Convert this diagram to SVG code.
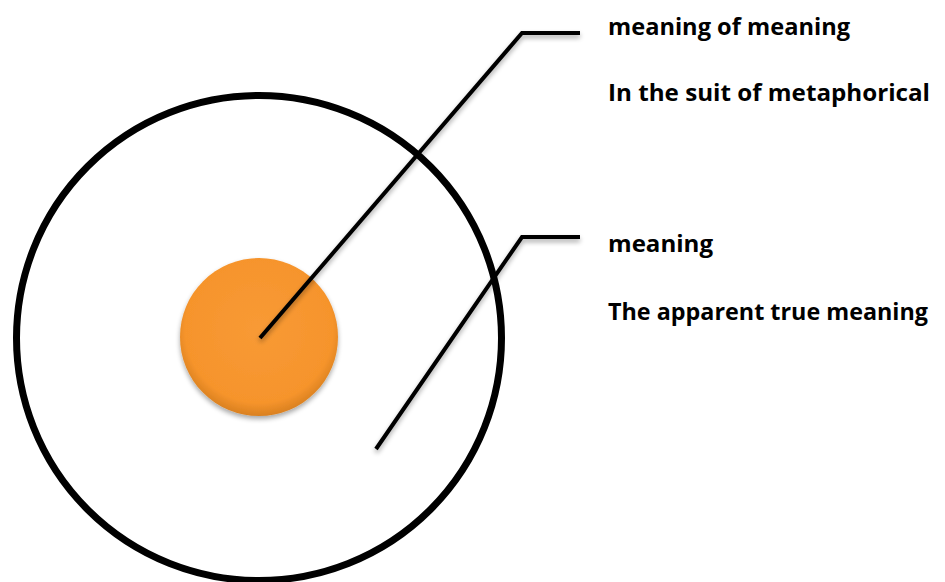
<svg xmlns="http://www.w3.org/2000/svg" width="945" height="582" viewBox="0 0 945 582">
<style>
.lbl{font-family:"Open Sans","Liberation Sans",sans-serif;font-weight:bold;font-size:23px;fill:#000}
.conn{fill:none;stroke:#000;stroke-width:4;stroke-linejoin:miter;stroke-linecap:butt}
</style>
<defs>
<radialGradient id="og" cx="50%" cy="45%" r="55%">
<stop offset="0" stop-color="#F89A35"/>
<stop offset="0.85" stop-color="#F6942C"/>
<stop offset="1" stop-color="#D9801F"/>
</radialGradient>
<filter id="sh" x="-20%" y="-20%" width="140%" height="140%">
<feGaussianBlur in="SourceAlpha" stdDeviation="2.5"/>
<feOffset dx="0" dy="3" result="b"/>
<feComponentTransfer><feFuncA type="linear" slope="0.35"/></feComponentTransfer>
<feMerge><feMergeNode/><feMergeNode in="SourceGraphic"/></feMerge>
</filter>
</defs>
<rect width="945" height="582" fill="#fff"/>
<g id="outer">
<circle cx="259" cy="338" r="242.5" fill="none" stroke="#000" stroke-width="7"/>
</g>
<g id="core">
<circle cx="259" cy="337" r="79" fill="url(#og)" filter="url(#sh)"/>
</g>
<g id="connectors" filter="url(#sh)">
<polyline class="conn" points="260,338 522,33 580,33"/>
<polyline class="conn" points="376,449 522,237 580,237"/>
</g>
<g id="label-meaning-of-meaning">
<text class="lbl" x="608" y="35" textLength="242" lengthAdjust="spacingAndGlyphs">meaning of meaning</text>
<text class="lbl" x="608" y="101" textLength="322" lengthAdjust="spacingAndGlyphs">In the suit of metaphorical</text>
</g>
<g id="label-meaning">
<text class="lbl" x="608" y="252" textLength="105" lengthAdjust="spacingAndGlyphs">meaning</text>
<text class="lbl" x="608" y="320" textLength="320" lengthAdjust="spacingAndGlyphs">The apparent true meaning</text>
</g>
</svg>
